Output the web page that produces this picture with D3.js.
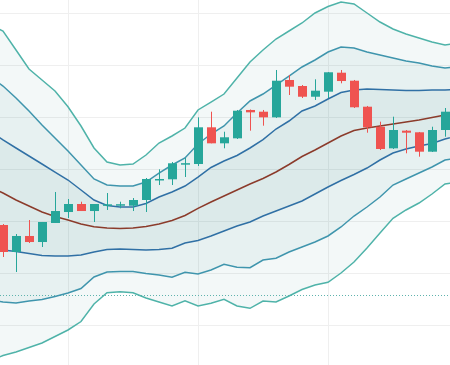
<!DOCTYPE html>
<html>
<head>
<meta charset="utf-8">
<script src="https://cdn.jsdelivr.net/npm/d3@7"></script>
<style>
  body { margin: 0; background: #fff; }
  svg { display: block; }
</style>
</head>
<body>
<div id="chart"></div>
<script>
// chart size
var width = 450, height = 365;

// candles (index 0..34)
var opens  = [139.23,134.04,137.12,135.96,139.62,141.73,143.27,141.92,143.08,143.12,142.94,144.04,147.96,148.02,151.0,150.96,158.02,154.94,155.9,161.35,161.02,159.94,167.12,165.96,163.9,164.87,168.52,166.98,161.98,158.13,153.98,157.37,157.06,153.33,157.5];
var highs  = [139.42,137.5,140.19,139.81,145.58,144.23,143.71,143.27,145.38,143.71,144.42,148.27,149.94,151.35,152.12,159.94,161.02,157.17,161.35,161.44,161.35,169.04,168.08,166.15,167.25,168.65,169.04,167.12,162.12,159.1,160.06,157.5,157.12,158.13,161.73];
var lows   = [133.08,130.19,135.77,135.0,139.62,140.58,141.92,139.81,142.12,142.44,141.92,141.73,146.92,146.92,148.46,150.58,154.94,153.98,155.77,157.37,158.33,159.81,164.23,163.65,163.27,163.65,166.48,161.73,156.98,153.65,153.85,153.02,152.37,153.27,156.21];
var closes = [134.04,137.12,135.96,139.81,141.92,143.27,141.92,143.27,143.21,143.23,144.04,148.08,148.08,151.1,151.12,158.02,154.94,156.1,161.21,160.9,159.94,166.98,165.83,163.9,165.06,168.6,166.92,161.87,158.02,153.85,157.5,156.98,153.33,157.5,161.02];

// band lines (index -1..35)
var middle     = [146.54,145.38,144.04,142.88,141.73,140.87,140.19,139.42,138.9,138.65,138.56,138.65,138.94,139.42,140.1,141.06,142.44,143.65,144.81,145.96,147.12,148.17,149.42,150.87,152.4,153.65,155.0,156.35,157.4,157.88,158.27,158.65,159.04,159.42,159.9,160.38,160.77];
var upperInner = [157.31,155.58,154.04,152.5,150.96,149.42,147.88,145.96,144.04,142.98,142.69,142.69,143.37,144.62,145.58,146.73,148.46,150.29,151.54,152.6,154.04,155.67,157.69,159.23,161.15,162.12,163.46,164.71,165.19,165.38,165.29,165.19,165.1,165.1,165.19,165.19,165.29];
var upperMid   = [167.69,165.96,163.65,161.15,158.46,155.96,153.46,150.77,148.08,146.92,146.73,146.73,147.5,149.23,150.77,152.12,154.81,156.73,158.27,160.77,163.08,164.42,166.15,167.88,169.62,170.96,172.5,173.46,173.27,172.5,171.92,171.35,170.77,170.38,169.81,169.42,169.62];
var upperOuter = [177.69,176.54,172.88,169.23,167.12,165.0,161.98,158.27,154.04,151.35,150.77,150.96,152.69,155.0,156.35,157.88,161.35,162.88,164.42,167.5,170.58,172.88,175.0,176.54,178.08,180.0,181.25,182.12,181.73,180.0,178.27,176.92,175.96,175.19,174.42,173.85,174.23];
var lowerInner = [134.62,134.42,134.13,133.75,133.37,133.27,133.27,133.46,134.04,134.52,134.62,134.52,134.42,134.52,134.75,135.77,136.25,137.12,138.08,139.04,139.81,140.96,141.92,142.88,143.85,145.19,146.54,147.79,148.94,150.19,151.73,153.08,153.85,154.42,154.9,155.77,156.35];
var lowerMid   = [124.81,124.42,124.23,124.62,124.9,125.48,126.15,127.02,129.23,130.19,130.29,130.29,129.9,129.62,129.17,130.13,129.81,130.58,131.67,131.1,131.02,132.5,132.83,134.04,135.0,135.96,137.12,138.85,140.96,142.69,144.62,146.92,148.08,149.23,150.38,151.73,152.12];
var lowerOuter = [113.08,114.13,114.81,115.67,116.54,117.79,119.04,120.67,124.04,126.21,126.4,126.21,125.19,124.42,123.65,124.67,123.65,124.17,124.94,123.65,123.21,124.62,124.42,125.58,126.83,127.69,128.21,130.0,132.12,134.81,137.69,140.52,142.12,143.46,145.19,147.12,147.5];

var priceTicks = [120, 130, 140, 150, 160, 170, 180];
var timeTicks = [5, 15, 25];
var refLevel = 125.77;

var svg = d3.select("#chart")
    .append("svg")
    .attr("width", width)
    .attr("height", height);

var x = d3.scaleLinear().domain([5, 15]).range([68, 198]);
var y = d3.scaleLinear().domain([112.31, 182.5]).range([height, 0]);

// grid
svg.append("g")
    .selectAll("line.h")
    .data(priceTicks)
    .enter().append("line")
    .attr("x1", 0).attr("x2", width)
    .attr("y1", d => Math.round(y(d)) + 0.5)
    .attr("y2", d => Math.round(y(d)) + 0.5)
    .style("stroke", "#efefef");

svg.append("g")
    .selectAll("line.v")
    .data(timeTicks)
    .enter().append("line")
    .attr("y1", 0).attr("y2", height)
    .attr("x1", d => Math.round(x(d)) + 0.5)
    .attr("x2", d => Math.round(x(d)) + 0.5)
    .style("stroke", "#efefef");

var bandIdx = d3.range(-1, 36);
var fillColor = "rgb(0,110,110)";

function band(top, bottom) {
    return d3.area()
        .x((d, i) => x(bandIdx[i]))
        .y0((d, i) => y(bottom[i]))
        .y1((d, i) => y(top[i]))(top);
}

[[upperOuter, lowerOuter], [upperMid, lowerMid], [upperInner, lowerInner]].forEach(function (p) {
    svg.append("path")
        .attr("d", band(p[0], p[1]))
        .style("fill", fillColor)
        .style("fill-opacity", 0.048);
});

// dotted reference line
svg.append("line")
    .attr("x1", 0).attr("x2", width)
    .attr("y1", Math.round(y(refLevel)) + 0.5)
    .attr("y2", Math.round(y(refLevel)) + 0.5)
    .style("stroke", "#5fb3ad")
    .style("stroke-width", 1)
    .style("stroke-dasharray", "1,2");

var line = d3.line().x((d, i) => x(bandIdx[i])).y(d => y(d));

var lines = [
    {data: upperOuter, color: "#4fb3a9"},
    {data: lowerOuter, color: "#4fb3a9"},
    {data: upperMid, color: "#3f95ad"},
    {data: lowerMid, color: "#3f95ad"},
    {data: upperInner, color: "#3070a5"},
    {data: lowerInner, color: "#3070a5"},
    {data: middle, color: "#8b3b2b"}
];

svg.selectAll(".band-line")
    .data(lines)
    .enter().append("path")
    .attr("class", "band-line")
    .attr("d", d => line(d.data))
    .style("fill", "none")
    .style("stroke", d => d.color)
    .style("stroke-width", 1.5);

// candles
var up = "#26a69a", down = "#ef5350";
var bodyW = 9;
var candles = opens.map((o, i) => ({i: i, o: o, h: highs[i], l: lows[i], c: closes[i]}));

var g = svg.selectAll(".candle")
    .data(candles)
    .enter().append("g")
    .attr("class", "candle");

g.append("line")
    .attr("x1", d => Math.round(x(d.i)) + 0.5)
    .attr("x2", d => Math.round(x(d.i)) + 0.5)
    .attr("y1", d => y(d.h))
    .attr("y2", d => y(d.l))
    .style("stroke", d => d.c >= d.o ? up : down)
    .style("stroke-width", 1);

g.append("rect")
    .attr("x", d => Math.round(x(d.i)) - 4)
    .attr("width", bodyW)
    .attr("y", d => y(Math.max(d.o, d.c)))
    .attr("height", d => Math.max(1.5, Math.abs(y(d.o) - y(d.c))))
    .style("fill", d => d.c >= d.o ? up : down);
</script>
</body>
</html>
